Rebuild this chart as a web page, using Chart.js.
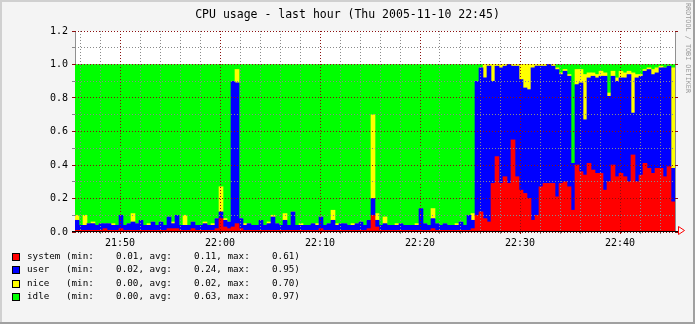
<!DOCTYPE html>
<html>
<head>
<meta charset="utf-8">
<script src="https://cdn.jsdelivr.net/npm/chart.js@4.4.1/dist/chart.umd.min.js"></script>
<style>
  html, body { margin: 0; padding: 0; background: #f4f4f4; }
  canvas { display: block; }
</style>
</head>
<body>
<canvas id="cpu" width="695" height="324"></canvas>
<script>
// rrdtool style "CPU usage - last hour"
const title = 'CPU usage - last hour (Thu 2005-11-10 22:45)';
const watermark = 'RRDTOOL / TOBI OETIKER';

// time axis: minutes after 21:00, one sample every 24 s
const startMinute = 45.5;
const stepMinutes = 0.4;

const xTickMinutes = [50, 60, 70, 80, 90, 100];
const xTickLabels = ['21:50', '22:00', '22:10', '22:20', '22:30', '22:40'];
const yTickValues = [0, 0.2, 0.4, 0.6, 0.8, 1.0, 1.2];
const yTickLabels = ['0.0', '0.2', '0.4', '0.6', '0.8', '1.0', '1.2'];

const seriesNames = ['system', 'user', 'nice', 'idle'];
const seriesColors = ['#ff0000', '#0000ff', '#ffff00', '#00ff00'];

const system = [
  0.01, 0.01, 0.01, 0.01, 0.01, 0.01, 0.01, 0.02, 0.01, 0.01,
  0.01, 0.02, 0.01, 0.01, 0.01, 0.01, 0.01, 0.01, 0.01, 0.01,
  0.01, 0.01, 0.01, 0.02, 0.02, 0.02, 0.01, 0.01, 0.01, 0.02,
  0.01, 0.01, 0.01, 0.01, 0.01, 0.02, 0.08, 0.03, 0.02, 0.03,
  0.05, 0.02, 0.01, 0.01, 0.01, 0.01, 0.01, 0.01, 0.01, 0.01,
  0.01, 0.01, 0.01, 0.01, 0.01, 0.01, 0.01, 0.01, 0.01, 0.01,
  0.01, 0.02, 0.01, 0.01, 0.01, 0.01, 0.01, 0.01, 0.01, 0.01,
  0.01, 0.01, 0.01, 0.02, 0.10, 0.03, 0.01, 0.01, 0.01, 0.01,
  0.01, 0.01, 0.01, 0.01, 0.01, 0.01, 0.01, 0.01, 0.01, 0.02,
  0.01, 0.01, 0.01, 0.01, 0.01, 0.01, 0.01, 0.01, 0.01, 0.02,
  0.10, 0.12, 0.08, 0.06, 0.29, 0.45, 0.29, 0.33, 0.29, 0.55,
  0.33, 0.25, 0.23, 0.20, 0.07, 0.10, 0.27, 0.29, 0.29, 0.29,
  0.21, 0.29, 0.30, 0.27, 0.13, 0.40, 0.36, 0.34, 0.41, 0.37,
  0.35, 0.35, 0.25, 0.30, 0.40, 0.33, 0.35, 0.33, 0.30, 0.46,
  0.30, 0.34, 0.41, 0.38, 0.35, 0.38, 0.38, 0.33, 0.39, 0.18
];
const user = [
  0.06, 0.03, 0.03, 0.04, 0.04, 0.03, 0.04, 0.03, 0.04, 0.03,
  0.03, 0.08, 0.03, 0.04, 0.05, 0.04, 0.06, 0.03, 0.03, 0.05,
  0.03, 0.05, 0.03, 0.07, 0.03, 0.08, 0.03, 0.03, 0.03, 0.04,
  0.03, 0.03, 0.04, 0.03, 0.03, 0.06, 0.04, 0.04, 0.04, 0.87,
  0.84, 0.06, 0.03, 0.04, 0.03, 0.03, 0.06, 0.03, 0.04, 0.08,
  0.04, 0.03, 0.06, 0.03, 0.11, 0.03, 0.03, 0.03, 0.03, 0.04,
  0.03, 0.07, 0.03, 0.04, 0.06, 0.03, 0.04, 0.04, 0.03, 0.03,
  0.04, 0.05, 0.03, 0.05, 0.10, 0.04, 0.03, 0.04, 0.03, 0.03,
  0.03, 0.04, 0.03, 0.03, 0.03, 0.03, 0.13, 0.04, 0.03, 0.06,
  0.04, 0.03, 0.04, 0.03, 0.03, 0.03, 0.05, 0.03, 0.09, 0.05,
  0.80, 0.86, 0.84, 0.93, 0.61, 0.54, 0.69, 0.66, 0.71, 0.44,
  0.66, 0.66, 0.63, 0.65, 0.91, 0.89, 0.72, 0.70, 0.71, 0.70,
  0.76, 0.65, 0.66, 0.66, 0.28, 0.48, 0.53, 0.33, 0.51, 0.56,
  0.57, 0.58, 0.68, 0.51, 0.53, 0.57, 0.57, 0.59, 0.64, 0.25,
  0.62, 0.59, 0.55, 0.59, 0.59, 0.57, 0.60, 0.65, 0.60, 0.20
];
const nice = [
  0.03, 0, 0.06, 0, 0.01, 0, 0, 0, 0, 0.01,
  0, 0, 0, 0, 0.05, 0, 0, 0, 0.01, 0,
  0, 0, 0, 0, 0.01, 0, 0, 0.06, 0, 0,
  0, 0, 0.01, 0, 0.01, 0, 0.15, 0.01, 0, 0,
  0.08, 0, 0.01, 0, 0, 0, 0, 0, 0.01, 0.01,
  0, 0, 0.04, 0, 0, 0, 0.01, 0, 0, 0,
  0.01, 0, 0, 0, 0.06, 0.01, 0, 0, 0, 0.01,
  0, 0, 0, 0, 0.50, 0.04, 0, 0.04, 0, 0,
  0.01, 0, 0, 0, 0, 0.01, 0, 0, 0, 0.06,
  0, 0, 0, 0, 0, 0.01, 0, 0, 0, 0.04,
  0, 0, 0.08, 0.01, 0.10, 0.01, 0.02, 0.01, 0, 0.01,
  0.01, 0.09, 0.14, 0.15, 0.02, 0.01, 0.01, 0.01, 0, 0.01,
  0.01, 0.01, 0.01, 0.01, 0, 0.09, 0.08, 0.27, 0.03, 0.02,
  0.02, 0.03, 0.02, 0.02, 0.03, 0.02, 0.04, 0.03, 0.02, 0.24,
  0.02, 0.01, 0.01, 0.01, 0.03, 0.03, 0.01, 0, 0, 0.60
];
const idle = [
  0.90, 0.96, 0.90, 0.95, 0.94, 0.96, 0.95, 0.95, 0.95, 0.95,
  0.96, 0.90, 0.96, 0.95, 0.89, 0.95, 0.93, 0.96, 0.95, 0.94,
  0.96, 0.94, 0.96, 0.91, 0.94, 0.90, 0.96, 0.90, 0.96, 0.94,
  0.96, 0.96, 0.94, 0.96, 0.95, 0.92, 0.73, 0.92, 0.94, 0.10,
  0.03, 0.92, 0.95, 0.95, 0.96, 0.96, 0.93, 0.96, 0.94, 0.90,
  0.95, 0.96, 0.89, 0.96, 0.88, 0.96, 0.95, 0.96, 0.96, 0.95,
  0.95, 0.91, 0.96, 0.95, 0.87, 0.95, 0.95, 0.95, 0.96, 0.95,
  0.95, 0.94, 0.96, 0.93, 0.30, 0.89, 0.96, 0.91, 0.96, 0.96,
  0.95, 0.95, 0.96, 0.96, 0.96, 0.95, 0.86, 0.95, 0.96, 0.86,
  0.95, 0.96, 0.95, 0.96, 0.96, 0.95, 0.94, 0.96, 0.90, 0.89,
  0.10, 0.02, 0, 0, 0, 0, 0, 0, 0, 0,
  0, 0, 0, 0, 0, 0, 0, 0, 0, 0,
  0.02, 0.05, 0.03, 0.06, 0.59, 0.03, 0.03, 0.06, 0.05, 0.05,
  0.06, 0.04, 0.05, 0.17, 0.04, 0.08, 0.04, 0.05, 0.04, 0.05,
  0.06, 0.06, 0.03, 0.02, 0.03, 0.02, 0.01, 0.02, 0.01, 0.02
];

const statMin = ['0.01', '0.02', '0.00', '0.00'];
const statAvg = ['0.11', '0.24', '0.02', '0.63'];
const statMax = ['0.61', '0.95', '0.70', '0.97'];

const majorGrid = '#8c1010';
const minorGrid = '#8a8a8a';
const mono = '"DejaVu Sans Mono", "Liberation Mono", monospace';

// grid every 2 minutes / every 0.1
const xGrid = [];
for (let m = 46; m <= 104; m += 2) xGrid.push(m);
const yGrid = [];
for (let k = 0; k <= 12; k++) yGrid.push(k / 10);

const isMajorX = v => xTickMinutes.includes(v);
const yMajorIndex = v => yTickValues.findIndex(t => Math.abs(t - v) < 1e-6);

// each sample is a full-width stacked bar centred in its 24 s slot
const allSeries = [system, user, nice, idle];
const datasets = allSeries.map((vals, k) => ({
  label: seriesNames[k],
  data: vals.map((v, i) => ({ x: startMinute + (i + 0.5) * stepMinutes, y: v })),
  backgroundColor: seriesColors[k],
  borderWidth: 0,
  barPercentage: 1,
  categoryPercentage: 1,
}));

function legendLine(k) {
  const pad = s => s.padStart(8, ' ');
  return seriesNames[k].padEnd(7, ' ') + '(min:' + pad(statMin[k]) + ', avg:' + pad(statAvg[k]) + ', max:' + pad(statMax[k]) + ')';
}

const rrdLook = {
  id: 'rrdLook',
  beforeDraw(chart) {
    const { ctx, chartArea: a, width, height } = chart;
    ctx.save();
    ctx.fillStyle = '#f4f4f4';
    ctx.fillRect(0, 0, width, height);
    ctx.fillStyle = '#d0d0d0';
    ctx.fillRect(0, 0, width, 2);
    ctx.fillRect(0, 0, 2, height);
    ctx.fillStyle = '#a0a0a0';
    ctx.fillRect(0, height - 2, width, 2);
    ctx.fillRect(width - 2, 0, 2, height);
    ctx.fillStyle = '#ffffff';
    ctx.fillRect(a.left, a.top, a.right - a.left, a.bottom - a.top);
    ctx.fillStyle = '#909090';
    ctx.fillRect(a.left, a.top, 1, a.bottom - a.top);
    ctx.restore();
  },
  afterDraw(chart) {
    const { ctx, chartArea: a, scales: { y } } = chart;
    ctx.save();

    // right frame line and major tick stubs
    ctx.fillStyle = '#909090';
    ctx.fillRect(a.right, a.top, 1, a.bottom - a.top);
    ctx.fillStyle = majorGrid;
    yTickValues.forEach(v => {
      const py = Math.round(y.getPixelForValue(v) - 0.5);
      ctx.fillRect(a.right, py, 3, 1);
    });

    // x axis and arrow
    ctx.fillStyle = '#000000';
    ctx.fillRect(a.left - 3, a.bottom - 1, a.right - a.left + 6, 1);
    ctx.strokeStyle = '#ff0000';
    ctx.lineWidth = 1;
    ctx.beginPath();
    ctx.moveTo(678.5, a.bottom - 5.5);
    ctx.lineTo(678.5, a.bottom + 2.5);
    ctx.lineTo(684.5, a.bottom - 1.5);
    ctx.closePath();
    ctx.stroke();

    // title
    ctx.fillStyle = '#000000';
    ctx.font = '11.5px ' + mono;
    ctx.textAlign = 'center';
    ctx.textBaseline = 'middle';
    ctx.fillText(title, 347.5, 15);

    // watermark, rotated
    ctx.save();
    ctx.translate(688, 48);
    ctx.rotate(Math.PI / 2);
    ctx.font = '6.8px ' + mono;
    ctx.fillStyle = '#999999';
    ctx.fillText(watermark, 0, 0);
    ctx.restore();

    // legend
    ctx.font = '9.25px ' + mono;
    ctx.textAlign = 'left';
    ctx.textBaseline = 'middle';
    seriesNames.forEach((name, k) => {
      const cy = Math.round(257 + k * 13.3);
      ctx.fillStyle = seriesColors[k];
      ctx.fillRect(12, cy - 4, 8, 8);
      ctx.strokeStyle = '#000000';
      ctx.strokeRect(12.5, cy - 3.5, 7, 7);
      ctx.fillStyle = '#000000';
      ctx.fillText(legendLine(k), 27, cy);
    });
    ctx.restore();
  }
};

new Chart(document.getElementById('cpu'), {
  type: 'bar',
  data: { datasets: datasets },
  options: {
    responsive: false,
    animation: false,
    devicePixelRatio: 1,
    layout: { padding: { left: 0, right: 20, top: 31, bottom: 72 } },
    plugins: {
      legend: { display: false },
      title: { display: false },
      tooltip: { enabled: false },
    },
    scales: {
      x: {
        type: 'linear',
        stacked: true,
        offset: false,
        min: startMinute,
        max: startMinute + 60,
        afterBuildTicks: s => { s.ticks = xGrid.map(v => ({ value: v })); },
        afterFit: s => { s.height = 20; },
        grid: {
          z: 1,
          offset: false,
          color: c => isMajorX(c.tick.value) ? majorGrid : minorGrid,
          tickColor: c => isMajorX(c.tick.value) ? majorGrid : minorGrid,
          tickLength: 2,
          lineWidth: 1,
        },
        border: { display: false, dash: [1, 2] },
        ticks: {
          autoSkip: false,
          maxRotation: 0,
          padding: 3,
          color: '#000000',
          font: { family: mono, size: 10 },
          callback: v => {
            const i = xTickMinutes.indexOf(v);
            return i >= 0 ? xTickLabels[i] : '';
          },
        },
      },
      y: {
        stacked: true,
        min: 0,
        max: 1.2,
        afterBuildTicks: s => { s.ticks = yGrid.map(v => ({ value: v })); },
        afterFit: s => { s.width = 75; },
        grid: {
          z: 1,
          color: c => yMajorIndex(c.tick.value) >= 0 ? majorGrid : minorGrid,
          tickColor: c => yMajorIndex(c.tick.value) >= 0 ? majorGrid : minorGrid,
          tickLength: 3,
          lineWidth: 1,
        },
        border: { display: false, dash: [1, 2] },
        ticks: {
          autoSkip: false,
          padding: 4,
          color: '#000000',
          font: { family: mono, size: 10 },
          callback: v => {
            const i = yMajorIndex(v);
            return i >= 0 ? yTickLabels[i] : '';
          },
        },
      },
    },
  },
  plugins: [rrdLook],
});
</script>
</body>
</html>
